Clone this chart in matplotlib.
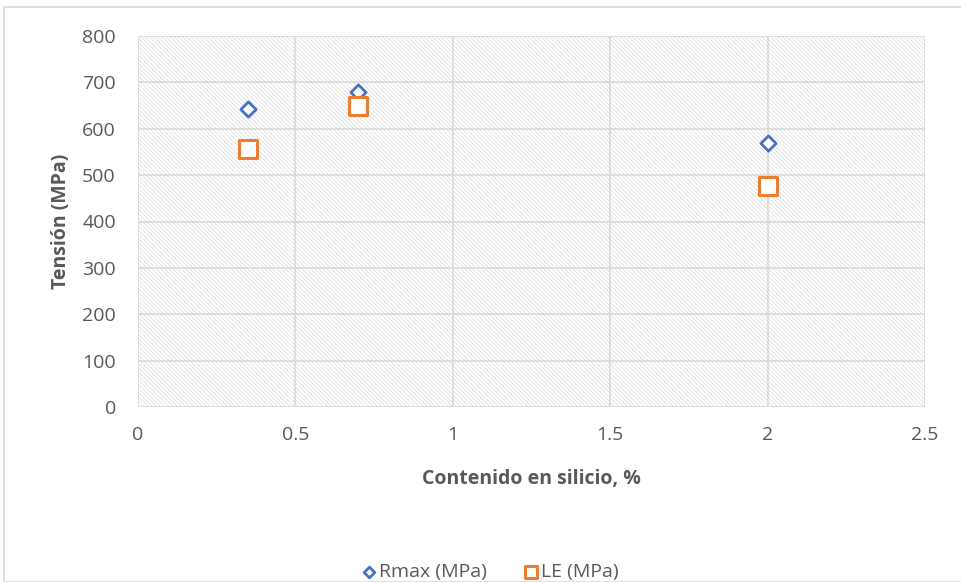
"""Scatter: tensile strength vs silicon content (Rmax and LE)."""
import matplotlib
matplotlib.use("Agg")
import matplotlib.pyplot as plt
from matplotlib.patches import Rectangle

# data
silicio = [0.35, 0.70, 2.00]
rmax = [642, 680, 569]
le = [556, 649, 476]

plt.rcParams["font.family"] = ["Open Sans", "DejaVu Sans"]
plt.rcParams["hatch.linewidth"] = 0.45

fig = plt.figure(figsize=(9.61, 5.82), dpi=100)
ax = fig.add_axes([138 / 961, 175 / 582, 787 / 961, 371 / 582])

# hatched plot-area background
ax.add_patch(Rectangle((0, 0), 1, 1, transform=ax.transAxes, facecolor="white",
                       edgecolor="#d6d6d6", linewidth=0, hatch="\\" * 8,
                       zorder=0))

ax.scatter(silicio, rmax, marker="D", s=60, facecolors="white",
           edgecolors="#4472C4", linewidths=2, zorder=3, label="Rmax (MPa)")
ax.scatter(silicio, le, marker="s", s=150, facecolors="white",
           edgecolors="#ED7D31", linewidths=2.2, zorder=3, label="LE (MPa)")

ax.set_xlim(0, 2.5)
ax.set_ylim(0, 800)
ax.set_xticks([0, 0.5, 1, 1.5, 2, 2.5])
ax.set_xticklabels(["0", "0.5", "1", "1.5", "2", "2.5"])
ax.set_yticks(range(0, 801, 100))
ax.grid(color="#d9d9d9", linewidth=1.2, zorder=1)
ax.set_axisbelow(True)
for s in ax.spines.values():
    s.set_visible(False)
ax.tick_params(length=0, labelsize=14, labelcolor="#595959")
ax.tick_params(axis="y", pad=16)
ax.tick_params(axis="x", pad=14)

ax.set_xlabel("Contenido en silicio, %", fontsize=14, fontweight="bold",
              color="#595959", labelpad=18)
ax.set_ylabel("Tensión (MPa)", fontsize=14, fontweight="bold",
              color="#595959", labelpad=8)

fig.legend(loc="center", bbox_to_anchor=(0.51, 10 / 582), ncol=2,
           frameon=False, fontsize=14, labelcolor="#595959",
           handlelength=0.8, handletextpad=0.1, columnspacing=1.9,
           markerscale=0.7)

# outer chart border
fig.add_artist(Rectangle((4 / 961, 0.5 / 582), 1.2, 575 / 582,
                         transform=fig.transFigure, fill=False,
                         edgecolor="#d9d9d9", linewidth=1.2))

fig.savefig("out.png", dpi=100)
